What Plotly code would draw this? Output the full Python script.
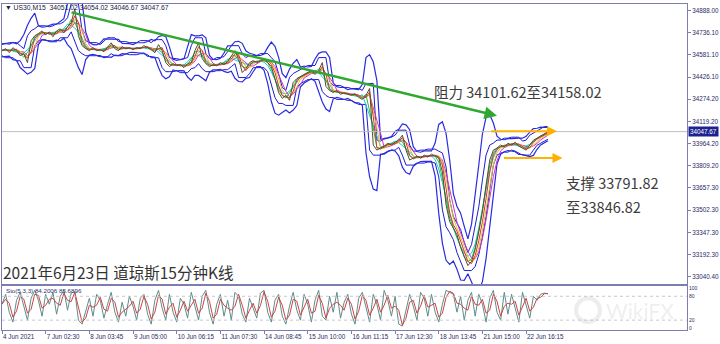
import plotly.graph_objects as go
import pandas as pd

# ---------------- data ----------------
close = [34611, 34625, 34597, 34632, 34611, 34576, 34590, 34528, 34680, 34715,
         34729, 34749, 34722, 34742, 34708, 34749, 34763, 34736, 34777, 34805,
         34902, 34715, 34646, 34625, 34611, 34632, 34611, 34618, 34604, 34639,
         34666, 34625, 34611, 34639, 34625, 34632, 34618, 34632, 34625, 34646,
         34632, 34618, 34597, 34653, 34611, 34528, 34500, 34521, 34507, 34514,
         34493, 34521, 34528, 34611, 34666, 34556, 34521, 34500, 34514, 34507,
         34528, 34514, 34535, 34570, 34611, 34556, 34459, 34486, 34528, 34542,
         34528, 34542, 34556, 34528, 34500, 34417, 34320, 34279, 34300, 34265,
         34390, 34417, 34431, 34445, 34459, 34473, 34445, 34473, 34528, 34362,
         34334, 34320, 34334, 34307, 34320, 34307, 34300, 34313, 34286, 34272,
         34300, 34348, 33954, 33919, 33933, 33947, 33967, 33954, 33974, 33988,
         34023, 33919, 33850, 33864, 33877, 33864, 33884, 33871, 33891, 33877,
         33864, 33767, 33538, 33421, 33379, 33331, 33241, 33172, 33116, 33144,
         33227, 33352, 33490, 33677, 33850, 33919, 33933, 33954, 33940, 33967,
         33954, 33974, 33947, 33933, 33919, 33954, 33988, 34002, 34016, 34030,
         34047.67]

stoch_k = [60, 85, 40, 15, 70, 90, 55, 20, 75, 95, 70, 30, 85, 60, 90, 35, 80, 95, 45, 88,
           92, 20, 10, 40, 75, 30, 85, 70, 25, 60, 90, 40, 15, 65, 30, 80, 55, 20, 75, 85,
           35, 10, 70, 95, 50, 20, 85, 40, 15, 75, 60, 25, 90, 55, 20, 80, 95, 40, 10, 60,
           85, 30, 70, 20, 90, 80, 35, 15, 75, 50, 25, 88, 95, 40, 15, 70, 85, 30, 10, 55,
           90, 45, 20, 85, 60, 15, 70, 95, 30, 20, 80, 40, 90, 25, 65, 85, 35, 10, 75, 90,
           50, 15, 85, 60, 20, 95, 70, 30, 80, 10, 5, 45, 85, 55, 20, 90, 75, 30, 85, 40,
           15, 60, 95, 90, 85, 40, 80, 20, 70, 90, 30, 85, 60, 15, 75, 95, 40, 20, 90, 35,
           85, 50, 15, 90, 60, 25, 80, 70, 85, 88, 86]

price_ticks = [34888.00, 34736.10, 34581.10, 34426.10, 34274.20, 34119.20, 33964.20,
               33809.20, 33657.30, 33502.30, 33347.30, 33192.30, 33040.40]
time_ticks = [0, 12, 24, 36, 48, 60, 72, 84, 96, 108, 120, 132, 144]
time_labels = ["4 Jun 2021", "7 Jun 02:30", "8 Jun 03:45", "9 Jun 05:00", "10 Jun 06:15",
               "11 Jun 07:30", "14 Jun 08:45", "15 Jun 10:00", "16 Jun 11:15",
               "17 Jun 12:30", "18 Jun 13:45", "21 Jun 15:00", "22 Jun 16:15"]
stoch_ticks = [0, 20, 80, 100]
last_price = 34047.67

trend_start = (18.7, 34880)
trend_end = (136, 34158)
resist_arrow = (134, 152.5, 34051)
support_arrow = (137.5, 154, 33864)

# ---------------- indicators ----------------
s = pd.Series(close)
xs = list(range(len(close)))
mid = s.rolling(5, min_periods=1, center=True).mean()
sd = s.rolling(5, min_periods=2, center=True).std().fillna(0)
bb_up = mid + 2 * sd + 15
bb_dn = mid - 2 * sd - 15
env_up = s.rolling(3, min_periods=1, center=True).max() + 35
env_dn = s.rolling(3, min_periods=1, center=True).min() - 35
k = pd.Series(stoch_k)
sig = k.rolling(2, min_periods=1).mean()

fig = go.Figure()
AX = "#7d7db0"

for band in (env_up, env_dn):
    fig.add_trace(go.Scatter(x=xs, y=band, mode="lines", line=dict(color="#1c1cd0", width=1),
                             hoverinfo="skip", showlegend=False))
for band in (bb_up, bb_dn):
    fig.add_trace(go.Scatter(x=xs, y=band, mode="lines", line=dict(color="#2a2ae0", width=1.2),
                             hoverinfo="skip", showlegend=False))

ma_lines = [
    (s.rolling(5, min_periods=1, center=True).mean(), "#20c8d0"),
    (s.rolling(4, min_periods=1).mean(), "#d030d0"),
    (s.rolling(3, min_periods=1).mean(), "#e0c020"),
    (s.rolling(3, min_periods=1, center=True).mean(), "#20c040"),
    (s.rolling(2, min_periods=1).mean(), "#e03030"),
]
for series, c in ma_lines:
    fig.add_trace(go.Scatter(x=xs, y=series, mode="lines", line=dict(color=c, width=1),
                             hoverinfo="skip", showlegend=False))
fig.add_trace(go.Scatter(x=xs, y=close, mode="lines", line=dict(color="#505030", width=1),
                         hoverinfo="skip", showlegend=False))

# stochastic
fig.add_trace(go.Scatter(x=xs, y=k, mode="lines", line=dict(color="#5e8c8c", width=1),
                         xaxis="x2", yaxis="y2", hoverinfo="skip", showlegend=False))
fig.add_trace(go.Scatter(x=xs, y=sig, mode="lines", line=dict(color="#cc4444", width=1),
                         xaxis="x2", yaxis="y2", hoverinfo="skip", showlegend=False))

XR = [0, 188.2]
for lv in (20, 80):
    fig.add_shape(type="line", xref="x2", yref="y2", x0=XR[0], x1=XR[1], y0=lv, y1=lv,
                  line=dict(color="#c8c8c8", width=1, dash="dot"))
fig.add_shape(type="line", xref="x", yref="y", x0=XR[0], x1=XR[1], y0=last_price, y1=last_price,
              line=dict(color="#bdbdbd", width=1))

# arrows
fig.add_annotation(x=trend_end[0], y=trend_end[1], ax=trend_start[0], ay=trend_start[1],
                   xref="x", yref="y", axref="x", ayref="y", showarrow=True, text="",
                   arrowhead=2, arrowsize=1, arrowwidth=2.5, arrowcolor="#2fa82f")
for x0, x1, yv in (resist_arrow, support_arrow):
    fig.add_annotation(x=x1, y=yv, ax=x0, ay=yv, xref="x", yref="y", axref="x", ayref="y",
                       showarrow=True, text="", arrowhead=2, arrowsize=1, arrowwidth=2,
                       arrowcolor="#ffb000")

# texts
CJK = "Noto Sans CJK SC"
def txt(t, px, py, size, color="#3c3c3c", font=CJK, anchor="left"):
    fig.add_annotation(text=t, x=px / 720, y=1 - py / 344, xref="paper", yref="paper",
                       xanchor=anchor, yanchor="middle", showarrow=False,
                       font=dict(family=font, size=size, color=color))

txt("阻力 34101.62至34158.02", 432, 91, 14.5)
txt("支撑 33791.82", 564, 183, 14.5)
txt("至33846.82", 564, 207, 14.5)
txt("2021年6月23日 道琼斯15分钟K线", 1, 273, 15.5, color="#333333")
txt("▼ US30,M15  34051.02 34054.02 34046.67 34047.67", 3, 7, 6.8, color="#202040",
    font="Liberation Sans")
txt("Sto(5,3,3) 84.2006 85.6896", 4, 291, 6.2, color="#303070", font="Liberation Sans")
txt("WikiFX", 604, 311, 21, color="rgba(190,190,200,0.25)", font="Lato")
fig.add_shape(type="circle", xref="paper", yref="paper", x0=576 / 720, x1=600 / 720,
              y0=1 - 323 / 344, y1=1 - 299 / 344,
              line=dict(color="rgba(190,190,200,0.28)", width=4))

# current price tag
fig.add_annotation(text="34047.67", x=688 / 720, y=last_price, xref="paper", yref="y",
                   xanchor="left", yanchor="middle", showarrow=False, bgcolor="#1c2390",
                   borderpad=1, font=dict(family="Liberation Sans", size=6.3, color="white"))

dom_x = [2 / 720, 687 / 720]
fig.update_layout(
    width=720, height=344, margin=dict(l=0, r=0, t=0, b=0),
    paper_bgcolor="white", plot_bgcolor="white", showlegend=False,
    xaxis=dict(domain=dom_x, range=XR, anchor="y", showticklabels=False, showgrid=False,
               zeroline=False, showline=True, mirror=True, linecolor=AX, linewidth=1, ticks=""),
    xaxis2=dict(domain=dom_x, range=XR, anchor="y2", matches="x", showgrid=False, zeroline=False,
                showline=True, mirror=True, linecolor=AX, linewidth=1,
                tickvals=time_ticks, ticktext=time_labels, ticks="outside", ticklen=3,
                tickangle=0, tickcolor=AX, ticklabelposition="outside right",
                tickfont=dict(family="Liberation Sans", size=6.3, color="#2a2a66")),
    yaxis=dict(domain=[1 - 285 / 344, 1 - 3 / 344], range=[32985, 34936], anchor="x",
               side="right", showgrid=False, zeroline=False, showline=True, mirror=True,
               linecolor=AX, linewidth=1, tickvals=price_ticks,
               ticktext=[f"{v:.2f}" for v in price_ticks], ticks="outside", ticklen=3,
               tickcolor=AX, tickfont=dict(family="Liberation Sans", size=6.3, color="#2a2a66")),
    yaxis2=dict(domain=[1 - 331 / 344, 1 - 287 / 344], range=[-5, 105], anchor="x2",
                side="right", showgrid=False, zeroline=False, showline=True, mirror=True,
                linecolor=AX, linewidth=1, tickvals=stoch_ticks,
                ticktext=[str(v) for v in stoch_ticks], ticks="", ticklen=0,
                tickfont=dict(family="Liberation Sans", size=5, color="#2a2a66")),
)

fig.write_html("out.html")
